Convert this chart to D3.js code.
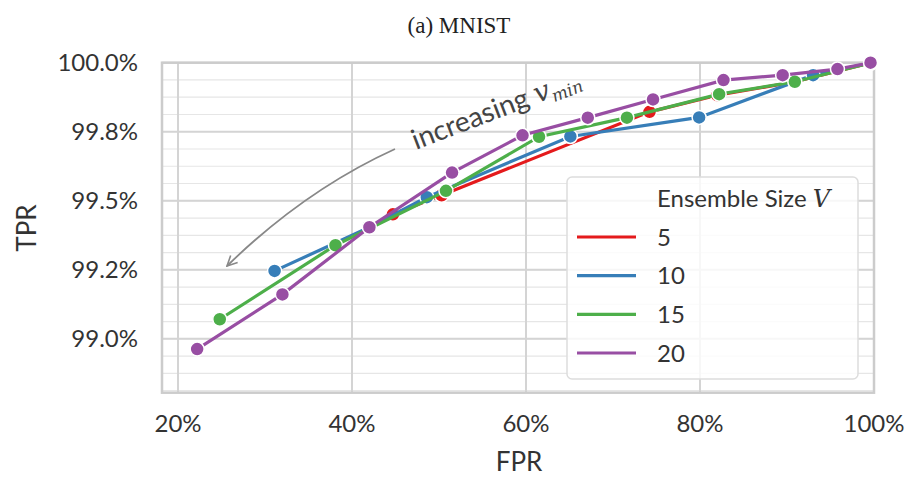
<!DOCTYPE html>
<html lang="en">
<head>
    <meta charset="UTF-8">
    <title> MNIST ROC </title>
    <style>
        body { margin: 0; background: #fff; }
        text { font-family: Lato, "Noto Sans", sans-serif; fill: #333; }
    </style>
</head>
<body>
    <div id="svg-container"></div>
    <script src="https://cdnjs.cloudflare.com/ajax/libs/d3/7.8.5/d3.min.js"></script>
    <script>
        // ensemble sizes and their (FPR %, TPR %) points
        const sizes = ['5', '10', '15', '20'];
        const colors = ['#e41a1c', '#377eb8', '#4daf4a', '#984ea3'];
        const fpr5 = [44.7, 50.3, 74.2, 82.0, 90.8, 99.6];
        const tpr5 = [99.451, 99.520, 99.822, 99.882, 99.930, 99.999];
        const fpr10 = [31.1, 42.0, 48.6, 65.1, 79.9, 93.0, 99.6];
        const tpr10 = [99.246, 99.404, 99.513, 99.733, 99.802, 99.955, 99.999];
        const fpr15 = [24.8, 38.1, 50.8, 61.5, 71.6, 82.2, 90.9, 99.6];
        const tpr15 = [99.071, 99.339, 99.536, 99.732, 99.801, 99.886, 99.931, 99.999];
        const fpr20 = [22.2, 32.0, 42.0, 51.5, 59.6, 67.1, 74.6, 82.7, 89.5, 95.8, 99.6];
        const tpr20 = [98.963, 99.161, 99.404, 99.602, 99.737, 99.801, 99.867, 99.937, 99.955, 99.977, 100.0];

        const xTicks = [20, 40, 60, 80, 100];
        const xTickLabels = ['20%', '40%', '60%', '80%', '100%'];
        const yTicks = [99.0, 99.25, 99.5, 99.75, 100.0];
        const yTickLabels = ['99.0%', '99.2%', '99.5%', '99.8%', '100.0%'];

        const series = [
            {name: sizes[0], fpr: fpr5, tpr: tpr5},
            {name: sizes[1], fpr: fpr10, tpr: tpr10},
            {name: sizes[2], fpr: fpr15, tpr: tpr15},
            {name: sizes[3], fpr: fpr20, tpr: tpr20}
        ].map((s, i) => ({
            name: s.name,
            color: colors[i],
            pts: s.fpr.map((f, j) => ({x: f, y: s.tpr[j]}))
        }));

        const W = 909, H = 477;
        const pLeft = 162, pRight = 874, pTop = 62.7, pBottom = 392.7;

        const svg = d3.select('#svg-container')
            .append('svg')
            .attr('width', W)
            .attr('height', H);

        const x = d3.scaleLinear().domain([18.16, 100]).range([pLeft, pRight]);
        const y = d3.scaleLinear().domain([98.805, 100]).range([pBottom, pTop]);

        // grid
        const minor = d3.range(98.8125, 100.001, 0.0625);
        svg.append('g').selectAll('line')
            .data(minor)
            .join('line')
            .attr('x1', pLeft).attr('x2', pRight)
            .attr('y1', d => y(d)).attr('y2', d => y(d))
            .attr('stroke', '#e6e6e6').attr('stroke-width', 1.2);
        svg.append('g').selectAll('line')
            .data(yTicks)
            .join('line')
            .attr('x1', pLeft).attr('x2', pRight)
            .attr('y1', d => y(d)).attr('y2', d => y(d))
            .attr('stroke', '#d4d4d4').attr('stroke-width', 2);
        svg.append('g').selectAll('line')
            .data(xTicks)
            .join('line')
            .attr('x1', d => x(d)).attr('x2', d => x(d))
            .attr('y1', pTop).attr('y2', pBottom)
            .attr('stroke', '#d4d4d4').attr('stroke-width', 2);

        // frame
        svg.append('rect')
            .attr('x', pLeft).attr('y', pTop)
            .attr('width', pRight - pLeft).attr('height', pBottom - pTop)
            .attr('fill', 'none').attr('stroke', '#cccccc').attr('stroke-width', 2.5);

        // tick labels
        svg.append('g').selectAll('text')
            .data(yTicks)
            .join('text')
            .attr('x', 138)
            .attr('y', d => y(d))
            .attr('dy', '0.36em')
            .attr('text-anchor', 'end')
            .attr('font-size', 24)
            .text((d, i) => yTickLabels[i]);
        svg.append('g').selectAll('text')
            .data(xTicks)
            .join('text')
            .attr('x', d => x(d))
            .attr('y', 432)
            .attr('text-anchor', 'middle')
            .attr('font-size', 24)
            .text((d, i) => xTickLabels[i]);

        // axis labels and title
        svg.append('text')
            .attr('x', 519).attr('y', 471)
            .attr('text-anchor', 'middle')
            .attr('font-size', 26)
            .text('FPR');
        svg.append('text')
            .attr('transform', 'translate(36,228) rotate(-90)')
            .attr('text-anchor', 'middle')
            .attr('font-size', 26)
            .text('TPR');
        svg.append('text')
            .attr('x', 459).attr('y', 33)
            .attr('text-anchor', 'middle')
            .attr('font-size', 23)
            .style('font-family', '"Liberation Serif", serif')
            .style('fill', '#222')
            .text('(a) MNIST');

        // annotation arrow
        svg.append('defs').append('marker')
            .attr('id', 'arrow')
            .attr('viewBox', '0 0 12 12')
            .attr('refX', 11).attr('refY', 6)
            .attr('markerWidth', 12).attr('markerHeight', 12)
            .attr('markerUnits', 'userSpaceOnUse')
            .attr('orient', 'auto')
            .append('path')
            .attr('d', 'M1,1 L11,6 L1,11')
            .attr('fill', 'none').attr('stroke', '#888').attr('stroke-width', 1.6);
        svg.append('path')
            .attr('d', 'M395,149 Q305,190 227,266')
            .attr('fill', 'none')
            .attr('stroke', '#888').attr('stroke-width', 1.8)
            .attr('marker-end', 'url(#arrow)');
        const ann = svg.append('text')
            .attr('transform', 'translate(416,150) rotate(-21)')
            .attr('font-size', 28)
            .style('fill', '#444');
        ann.append('tspan').text('increasing ');
        ann.append('tspan')
            .style('font-family', '"DejaVu Serif", serif')
            .style('font-style', 'italic')
            .text('v');
        ann.append('tspan')
            .attr('dy', 5)
            .attr('font-size', 17)
            .style('font-family', '"DejaVu Serif", serif')
            .style('font-style', 'italic')
            .text('min');

        // lines and markers
        const line = d3.line().x(d => x(d.x)).y(d => y(d.y));
        const g = svg.append('g');
        series.forEach(s => {
            g.append('path')
                .datum(s.pts)
                .attr('d', line)
                .attr('fill', 'none')
                .attr('stroke', s.color)
                .attr('stroke-width', 3.2);
            g.append('g').selectAll('circle')
                .data(s.pts)
                .join('circle')
                .attr('cx', d => x(d.x))
                .attr('cy', d => y(d.y))
                .attr('r', 7)
                .attr('fill', s.color)
                .attr('stroke', '#fff')
                .attr('stroke-width', 1.5);
        });

        // legend
        const lg = svg.append('g');
        lg.append('rect')
            .attr('x', 567).attr('y', 177)
            .attr('width', 291).attr('height', 202)
            .attr('rx', 5)
            .attr('fill', 'rgba(255,255,255,0.82)')
            .attr('stroke', '#dddddd').attr('stroke-width', 1.5);
        const lt = lg.append('text')
            .attr('x', 657).attr('y', 207)
            .attr('font-size', 24);
        lt.append('tspan').text('Ensemble Size ');
        lt.append('tspan')
            .style('font-family', '"DejaVu Serif", serif')
            .style('font-style', 'italic')
            .text('V');
        const ly = d3.scalePoint().domain(sizes).range([237, 353]);
        series.forEach(s => {
            lg.append('line')
                .attr('x1', 577).attr('x2', 636)
                .attr('y1', ly(s.name)).attr('y2', ly(s.name))
                .attr('stroke', s.color).attr('stroke-width', 3.2);
            lg.append('text')
                .attr('x', 657).attr('y', ly(s.name))
                .attr('dy', '0.36em')
                .attr('font-size', 24)
                .text(s.name);
        });
    </script>
</body>
</html>
